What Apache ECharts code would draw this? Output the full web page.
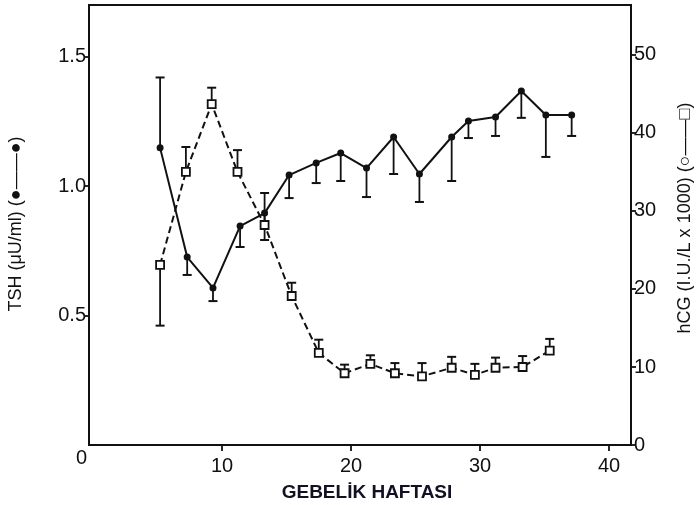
<!DOCTYPE html>
<html>
<head>
<meta charset="utf-8">
<script src="https://cdn.jsdelivr.net/npm/echarts@6/dist/echarts.min.js"></script>
<style>
  html, body { margin: 0; padding: 0; background: #fff; }
  #chart { width: 698px; height: 505px; }
</style>
</head>
<body>
<div id="chart"></div>
<script>
// TSH (filled circles, solid line) - week, mean, end of the one-sided error bar
const tshWeeks = [5.2, 7.3, 9.3, 11.4, 13.3, 15.2, 17.3, 19.2, 21.2, 23.3, 25.3, 27.8, 29.1, 31.2, 33.2, 35.1, 37.1]
const tshValues = [1.148, 0.726, 0.607, 0.846, 0.896, 1.043, 1.09, 1.128, 1.07, 1.19, 1.047, 1.19, 1.252, 1.267, 1.368, 1.275, 1.275]
const tshBarEnds = [1.42, 0.657, 0.556, 0.765, 0.792, 0.954, 1.012, 1.02, 0.958, 1.047, 0.939, 1.02, 1.186, 1.194, 1.264, 1.113, 1.194]

// hCG (open squares, dashed line), I.U./L x 1000
const hcgWeeks = [5.2, 7.2, 9.2, 11.2, 13.3, 15.4, 17.5, 19.5, 21.5, 23.4, 25.5, 27.8, 29.6, 31.2, 33.3, 35.4]
const hcgValues = [23.1, 35.0, 43.7, 35.0, 28.2, 19.1, 11.8, 9.2, 10.4, 9.2, 8.8, 9.9, 9.0, 9.9, 10.0, 12.1]
const hcgBarEnds = [15.3, 38.2, 45.8, 37.8, 32.3, 20.8, 13.5, 10.3, 11.5, 10.5, 10.5, 11.3, 10.4, 11.2, 11.4, 13.6]

const xTicks = [10, 20, 30, 40]
const tshTicks = [0.5, 1.0, 1.5]
const hcgTicks = [0, 10, 20, 30, 40, 50]

const ink = '#111'
const font = 'Liberation Sans, Arial, sans-serif'

function pairs(xs, ys) {
    return xs.map((x, i) => [x, ys[i]])
}

function errorBars(xs, ys, ends) {
    return xs.map((x, i) => [x, ys[i], ends[i]])
}

function renderBar(params, api) {
    const p0 = api.coord([api.value(0), api.value(1)])
    const p1 = api.coord([api.value(0), api.value(2)])
    const half = 4.5
    return {
        type: 'group',
        children: [
            { type: 'line', shape: { x1: p0[0], y1: p0[1], x2: p1[0], y2: p1[1] }, style: { stroke: ink, lineWidth: 1.8 } },
            { type: 'line', shape: { x1: p1[0] - half, y1: p1[1], x2: p1[0] + half, y2: p1[1] }, style: { stroke: ink, lineWidth: 2 } }
        ]
    }
}

const chart = echarts.init(document.getElementById('chart'))
const option = {
    backgroundColor: '#fff',
    animation: false,
    grid: {
        left: 89, right: 67, top: 5, bottom: 60,
        show: true, borderColor: ink, borderWidth: 2, backgroundColor: 'transparent'
    },
    xAxis: {
        type: 'value',
        min: -0.31,
        max: 41.7,
        splitLine: { show: false },
        axisLine: { onZero: false, lineStyle: { color: ink, width: 2 } },
        axisTick: { customValues: xTicks, length: 6, lineStyle: { color: ink, width: 1.8 } },
        axisLabel: { customValues: xTicks, color: ink, fontSize: 20, fontFamily: font, margin: 11 }
    },
    yAxis: [
        {
            type: 'value',
            min: 0,
            max: 1.7,
            splitLine: { show: false },
            axisLine: { show: true, onZero: false, lineStyle: { color: ink, width: 2 } },
            axisTick: { customValues: tshTicks, length: 5, lineStyle: { color: ink, width: 1.8 } },
            axisLabel: {
                customValues: tshTicks, color: ink, fontSize: 20, fontFamily: font, margin: 3,
                formatter: v => v.toFixed(1)
            }
        },
        {
            type: 'value',
            position: 'right',
            min: 0,
            max: 56.4,
            splitLine: { show: false },
            axisLine: { show: true, onZero: false, lineStyle: { color: ink, width: 2 } },
            axisTick: { customValues: hcgTicks, length: 5, lineStyle: { color: ink, width: 1.8 } },
            axisLabel: { customValues: hcgTicks, color: ink, fontSize: 20, fontFamily: font, margin: 3 }
        }
    ],
    graphic: [
        { type: 'text', left: 76, top: 448, style: { text: '0', fontSize: 20, fontFamily: font, fill: ink } },
        {
            type: 'text', x: 16, y: 224, rotation: Math.PI / 2,
            style: { text: 'TSH (μU/ml) (●——●)', fontSize: 18, fontFamily: font, fill: ink, align: 'center', verticalAlign: 'middle' }
        },
        {
            type: 'text', x: 685, y: 218, rotation: Math.PI / 2,
            style: { text: 'hCG (I.U./L x 1000) (○——□)', fontSize: 18, fontFamily: font, fill: ink, align: 'center', verticalAlign: 'middle' }
        },
        {
            type: 'text', x: 367, y: 493,
            style: { text: 'GEBELİK HAFTASI', fontSize: 19, fontWeight: 'bold', fontFamily: font, fill: '#111122', align: 'center', verticalAlign: 'middle' }
        }
    ],
    series: [
        {
            name: 'TSH bars',
            type: 'custom',
            yAxisIndex: 0,
            renderItem: renderBar,
            data: errorBars(tshWeeks, tshValues, tshBarEnds),
            z: 2
        },
        {
            name: 'hCG bars',
            type: 'custom',
            yAxisIndex: 1,
            renderItem: renderBar,
            data: errorBars(hcgWeeks, hcgValues, hcgBarEnds),
            z: 2
        },
        {
            name: 'hCG',
            type: 'line',
            yAxisIndex: 1,
            data: pairs(hcgWeeks, hcgValues),
            symbol: 'rect',
            symbolSize: 8,
            lineStyle: { color: ink, width: 2, type: [7, 4] },
            itemStyle: { color: '#fff', borderColor: ink, borderWidth: 1.8 },
            z: 3
        },
        {
            name: 'TSH',
            type: 'line',
            yAxisIndex: 0,
            data: pairs(tshWeeks, tshValues),
            symbol: 'circle',
            symbolSize: 7,
            lineStyle: { color: ink, width: 2 },
            itemStyle: { color: ink },
            z: 4
        }
    ]
}
chart.setOption(option)
window.addEventListener('resize', () => chart.resize())
</script>
</body>
</html>
